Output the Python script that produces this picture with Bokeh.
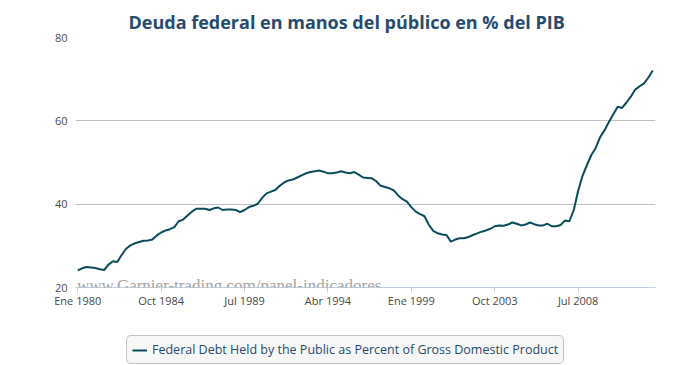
from bokeh.plotting import figure
from bokeh.models import FixedTicker, Legend, LegendItem, Label
from bokeh.layouts import column
from bokeh.embed import file_html
from bokeh.resources import INLINE

title_text = "Deuda federal en manos del público en % del PIB"
series_name = "Federal Debt Held by the Public as Percent of Gross Domestic Product"
watermark = "www.Garnier-trading.com/panel-indicadores"

# quarter index 0 = Ene 1980 (quarterly observations)
tick_quarters = [0, 19, 38, 57, 76, 95, 114]
tick_labels = ["Ene 1980", "Oct 1984", "Jul 1989", "Abr 1994", "Ene 1999", "Oct 2003", "Jul 2008"]
y_ticks = [20, 40, 60, 80]

debt_pct = [
    24.1, 24.6, 24.9, 24.8, 24.7, 24.4, 24.2, 25.5, 26.3, 26.1,
    27.8, 29.3, 30.1, 30.6, 30.9, 31.2, 31.3, 31.5, 32.5, 33.2,
    33.7, 34.0, 34.5, 35.9, 36.3, 37.3, 38.2, 38.9, 38.9, 38.9,
    38.6, 39.0, 39.2, 38.6, 38.7, 38.7, 38.6, 38.1, 38.6, 39.3,
    39.6, 40.1, 41.5, 42.6, 43.0, 43.4, 44.4, 45.2, 45.7, 45.9,
    46.4, 46.9, 47.4, 47.7, 47.9, 48.1, 47.8, 47.4, 47.4, 47.6,
    47.9, 47.6, 47.4, 47.7, 47.1, 46.4, 46.3, 46.2, 45.5, 44.4,
    44.1, 43.8, 43.3, 42.1, 41.2, 40.6, 39.3, 38.2, 37.6, 37.1,
    35.0, 33.6, 33.0, 32.7, 32.6, 31.0, 31.5, 31.8, 31.8, 32.1,
    32.6, 33.0, 33.4, 33.7, 34.1, 34.7, 34.9, 34.8, 35.1, 35.6,
    35.3, 34.9, 35.1, 35.6, 35.2, 34.9, 34.9, 35.3, 34.7, 34.7,
    35.0, 36.1, 35.9, 38.6, 43.2, 46.8, 49.4, 51.8, 53.5, 56.1,
    57.7, 59.7, 61.6, 63.4, 63.1, 64.4, 65.8, 67.5, 68.3, 69.0,
    70.4, 72.1,
]
quarter = list(range(len(debt_pct)))

LINE_COLOR = "#0c4b5a"
LABEL_COLOR = "#4a4a4a"
FONT = "Open Sans"

p = figure(width=682, height=317, output_backend="svg", toolbar_location=None,
           x_range=(-0.52, 131.62), y_range=(20, 80),
           min_border_left=75, min_border_right=27, min_border_top=37, min_border_bottom=30)
p.outline_line_color = None
p.background_fill_color = "white"
p.border_fill_color = "white"

p.title.text = title_text
p.title.align = "left"
p.title.offset = 53
p.title.standoff = 4
p.title.vertical_align = "top"
p.title.text_font = FONT
p.title.text_font_size = "18px"
p.title.text_font_style = "bold"
p.title.text_color = "#274b6d"

# y axis
p.yaxis.ticker = FixedTicker(ticks=y_ticks)
p.yaxis.axis_line_color = None
p.yaxis.major_tick_line_color = None
p.yaxis.major_tick_out = 0
p.yaxis.major_tick_in = 0
p.yaxis.minor_tick_line_color = None
p.yaxis.major_label_standoff = 8
p.yaxis.major_label_text_font = FONT
p.yaxis.major_label_text_font_size = "11px"
p.yaxis.major_label_text_color = LABEL_COLOR
p.ygrid.ticker = FixedTicker(ticks=y_ticks)
p.ygrid.grid_line_color = "#C0C0C0"
p.ygrid.grid_line_width = 1

# x axis
p.xaxis.ticker = FixedTicker(ticks=tick_quarters)
p.xaxis.major_label_overrides = dict(zip(tick_quarters, tick_labels))
p.xaxis.axis_line_color = "#C0D0E0"
p.xaxis.major_tick_line_color = "#C0D0E0"
p.xaxis.major_tick_out = 5
p.xaxis.major_tick_in = 0
p.xaxis.minor_tick_line_color = None
p.xaxis.major_label_standoff = 0
p.xaxis.major_label_text_font = FONT
p.xaxis.major_label_text_font_size = "11px"
p.xaxis.major_label_text_color = LABEL_COLOR
p.xgrid.grid_line_color = None

wm = Label(x=-0.2, y=20.6, text=watermark, text_font="Liberation Serif",
           text_font_size="17px", text_color="#a3a3a3", text_baseline="alphabetic")
p.add_layout(wm)

r = p.line(quarter, debt_pct, line_width=2, line_color=LINE_COLOR)

# legend strip below the chart (its proxy line falls outside the strip's ranges)
p2 = figure(width=682, height=48, output_backend="svg", toolbar_location=None,
            x_range=(0, 1), y_range=(0, 1), x_axis_type=None, y_axis_type=None,
            min_border=0)
p2.outline_line_color = None
p2.background_fill_color = "white"
p2.border_fill_color = "white"
p2.xgrid.visible = False
p2.ygrid.visible = False
proxy = p2.line(quarter, debt_pct, line_width=2, line_color=LINE_COLOR)

legend = Legend(items=[LegendItem(label=series_name, renderers=[proxy])],
                location=(51, 1), orientation="horizontal",
                padding=5, spacing=0, margin=0,
                glyph_width=15, glyph_height=12, label_height=12, label_standoff=5,
                label_text_font=FONT, label_text_font_size="12.5px", label_text_color="#274b6d",
                background_fill_color="#f7f7f7", background_fill_alpha=1,
                border_line_color="#909090", border_line_width=1)
if "border_radius" in Legend.properties():
    legend.border_radius = 5
p2.add_layout(legend)

layout = column(p, p2, spacing=0)
open("out.html", "w").write(file_html(layout, INLINE))
